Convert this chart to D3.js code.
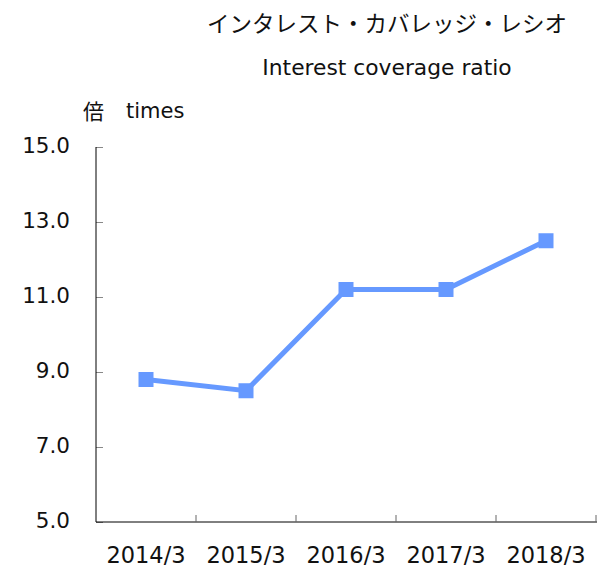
<!DOCTYPE html>
<html>
<head>
<meta charset="utf-8">
<script src="https://cdn.jsdelivr.net/npm/d3@7"></script>
<style>
  body { margin: 0; background: #fff; }
  text { font-family: "DejaVu Sans", Verdana, sans-serif; fill: #111; }
  .jp { font-family: "Noto Sans CJK JP", sans-serif; }
</style>
</head>
<body>
<div id="chart"></div>
<script>
var years = ["2014/3", "2015/3", "2016/3", "2017/3", "2018/3"];
var ratio = [8.8, 8.5, 11.2, 11.2, 12.5];
var yTicks = [5, 7, 9, 11, 13, 15];

var width = 597,
    height = 568;

var margin = {left: 96, right: 1, top: 147, bottom: 46};

var svg = d3.select("#chart")
    .append("svg")
    .attr("width", width)
    .attr("height", height);

var x = d3.scaleBand()
    .domain(years)
    .range([margin.left, width - margin.right]);

var y = d3.scaleLinear()
    .domain([5, 15])
    .range([height - margin.bottom, margin.top]);

// titles
svg.append("text")
    .attr("class", "jp")
    .attr("x", 387).attr("y", 32)
    .attr("text-anchor", "middle")
    .style("font-size", "22.5px")
    .text("インタレスト・カバレッジ・レシオ");

svg.append("text")
    .attr("x", 387).attr("y", 75)
    .attr("text-anchor", "middle")
    .style("font-size", "21.8px")
    .text("Interest coverage ratio");

svg.append("text")
    .attr("class", "jp")
    .attr("x", 83).attr("y", 119)
    .style("font-size", "21px")
    .text("倍");

svg.append("text")
    .attr("x", 126).attr("y", 118)
    .style("font-size", "21px")
    .text("times");

// y axis
var yAxis = svg.append("g")
    .attr("transform", "translate(" + margin.left + ",0)")
    .call(d3.axisRight(y).tickValues(yTicks).tickSize(7).tickFormat(d3.format(".1f")));
yAxis.select(".domain").remove();
yAxis.selectAll(".tick line").attr("stroke", "#888");
yAxis.selectAll(".tick text")
    .attr("x", -26)
    .attr("text-anchor", "end")
    .attr("dy", "0.25em")
    .style("font-size", "21.5px");
svg.append("line")
    .attr("x1", margin.left).attr("x2", margin.left)
    .attr("y1", y(15)).attr("y2", y(5))
    .attr("stroke", "#000");

// x axis
svg.append("line")
    .attr("x1", margin.left).attr("x2", width)
    .attr("y1", y(5)).attr("y2", y(5))
    .attr("stroke", "#000");

svg.selectAll(".xtick")
    .data(years)
    .enter().append("line")
    .attr("class", "xtick")
    .attr("x1", function(d) { return x(d) + x.bandwidth(); })
    .attr("x2", function(d) { return x(d) + x.bandwidth(); })
    .attr("y1", y(5))
    .attr("y2", y(5) - 7)
    .attr("stroke", "#666");

svg.selectAll(".xlabel")
    .data(years)
    .enter().append("text")
    .attr("class", "xlabel")
    .attr("x", function(d) { return x(d) + x.bandwidth() / 2; })
    .attr("y", 563)
    .attr("text-anchor", "middle")
    .style("font-size", "22.5px")
    .text(function(d) { return d; });

// line + markers
var line = d3.line()
    .x(function(d, i) { return x(years[i]) + x.bandwidth() / 2; })
    .y(function(d) { return y(d); });

svg.append("path")
    .datum(ratio)
    .attr("fill", "none")
    .attr("stroke", "#6699ff")
    .attr("stroke-width", 5)
    .attr("d", line);

svg.selectAll(".marker")
    .data(ratio)
    .enter().append("rect")
    .attr("class", "marker")
    .attr("x", function(d, i) { return x(years[i]) + x.bandwidth() / 2 - 7.5; })
    .attr("y", function(d) { return y(d) - 7.5; })
    .attr("width", 15)
    .attr("height", 15)
    .attr("fill", "#6699ff");
</script>
</body>
</html>
